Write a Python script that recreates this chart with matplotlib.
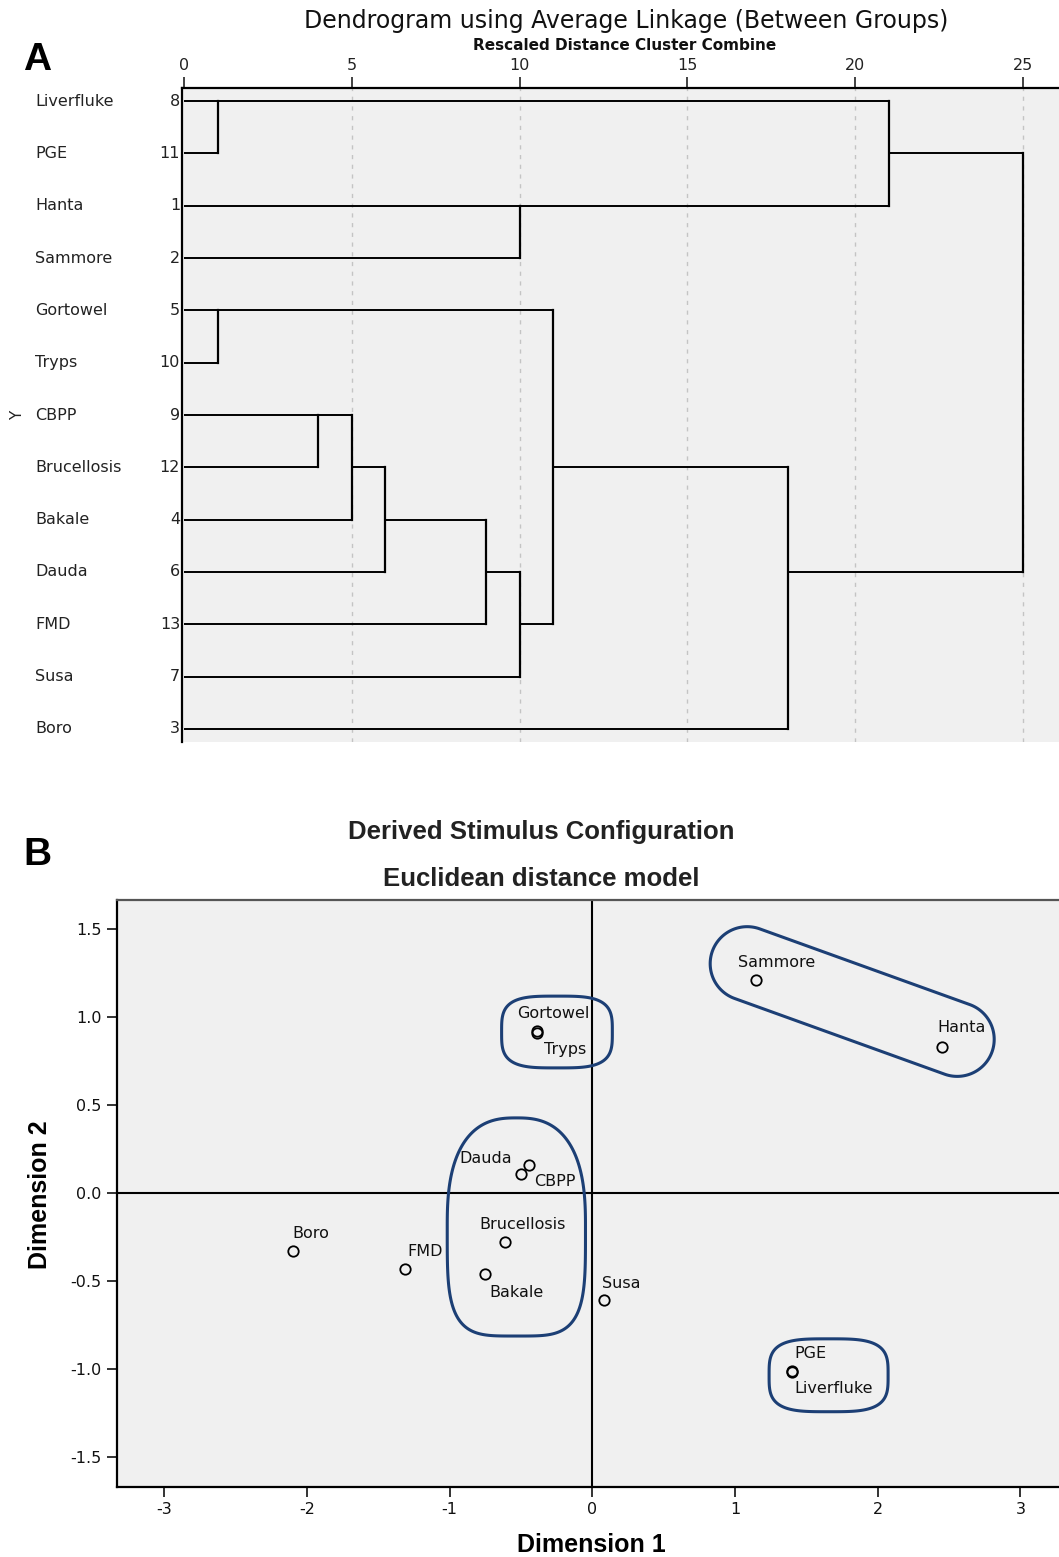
import numpy as np
import matplotlib
matplotlib.use('Agg')
import matplotlib.pyplot as plt
from matplotlib import transforms
from matplotlib.patches import Polygon

plt.rcParams['axes.unicode_minus'] = False

# ---------------- Panel A: dendrogram data ----------------
leaves = ['Liverfluke', 'PGE', 'Hanta', 'Sammore', 'Gortowel', 'Tryps', 'CBPP',
          'Brucellosis', 'Bakale', 'Dauda', 'FMD', 'Susa', 'Boro']
case_ids = [8, 11, 1, 2, 5, 10, 9, 12, 4, 6, 13, 7, 3]
# merge k creates cluster 'm{k+1}'
merge_a = ['Liverfluke', 'Gortowel', 'CBPP', 'm3', 'm4', 'm5', 'Hanta', 'm6', 'm2', 'm9', 'm1', 'm11']
merge_b = ['PGE', 'Tryps', 'Brucellosis', 'Bakale', 'Dauda', 'FMD', 'Sammore', 'Susa', 'm8', 'Boro', 'm7', 'm10']
merge_dist = [1, 1, 4, 5, 6, 9, 10, 10, 11, 18, 21, 25]
dist_ticks = [0, 5, 10, 15, 20, 25]

# ---------------- Panel B: MDS configuration ----------------
stim_names = ['Sammore', 'Hanta', 'Gortowel', 'Tryps', 'Dauda', 'CBPP', 'Brucellosis',
              'Bakale', 'FMD', 'Boro', 'Susa', 'PGE', 'Liverfluke']
dim1 = [1.15, 2.45, -0.39, -0.385, -0.44, -0.50, -0.61, -0.75, -1.31, -2.10, 0.08, 1.40, 1.40]
dim2 = [1.21, 0.83, 0.92, 0.91, 0.16, 0.11, -0.28, -0.46, -0.43, -0.33, -0.61, -1.01, -1.015]
groups = [['Gortowel', 'Tryps'], ['Dauda', 'CBPP', 'Brucellosis', 'Bakale'], ['PGE', 'Liverfluke']]
pair_group = ['Sammore', 'Hanta']

W, H = 1059, 1557
fig = plt.figure(figsize=(W / 100, H / 100), dpi=100)
fig.patch.set_facecolor('white')
BG = '#f0f0f0'

def fbox(l, t, r, b):
    return [l / W, 1 - b / H, (r - l) / W, (b - t) / H]

# ================= Panel A =================
axA = fig.add_axes(fbox(182, 88, 1059, 742))
axA.set_facecolor(BG)
axA.set_xlim(-0.06, 26.07)
axA.set_ylim(12.25, -0.25)

row = {n: i for i, n in enumerate(leaves)}
xpos = {n: 0 for n in leaves}
for k, (a, b, d) in enumerate(zip(merge_a, merge_b, merge_dist)):
    for c in (a, b):
        axA.plot([xpos[c], d], [row[c], row[c]], color='black', lw=1.4, solid_capstyle='butt')
    axA.plot([d, d], [row[a], row[b]], color='black', lw=1.6, solid_capstyle='projecting')
    name = 'm%d' % (k + 1)
    row[name] = np.floor((row[a] + row[b]) / 2)
    xpos[name] = d

for t in dist_ticks[1:]:
    axA.axvline(t, color='#c4c4c4', lw=1.0, ls=(0, (3, 4)), zorder=0)

axA.xaxis.tick_top()
axA.set_xticks(dist_ticks)
axA.tick_params(axis='x', direction='out', length=8, width=1.2, pad=3,
                labelsize=11.5, colors='#222222')
axA.set_yticks([])
for s in ['right', 'bottom']:
    axA.spines[s].set_visible(False)
axA.spines['top'].set_linewidth(1.6)
axA.spines['left'].set_linewidth(1.6)

trA = transforms.blended_transform_factory(fig.transFigure, axA.transData)
for i, (n, c) in enumerate(zip(leaves, case_ids)):
    axA.text(35 / W, i, n, transform=trA, ha='left', va='center', fontsize=11.5,
             color='#222222', clip_on=False)
    axA.text(180 / W, i, str(c), transform=trA, ha='right', va='center', fontsize=11.5,
             color='#222222', clip_on=False)
axA.text(18 / W, 6, 'Y', transform=trA, rotation=90, ha='center', va='center',
         fontsize=11, color='#222222')

fig.text(626 / W, 1 - 21 / H, 'Dendrogram using Average Linkage (Between Groups)',
         ha='center', va='center', fontsize=17, color='#111111')
fig.text(625 / W, 1 - 46 / H, 'Rescaled Distance Cluster Combine',
         ha='center', va='center', fontsize=11, fontweight='bold', color='#111111')
fig.text(37 / W, 1 - 60 / H, 'A', ha='center', va='center', fontsize=28,
         fontweight='bold', family='Liberation Sans')

# ================= Panel B =================
lB, tB, rB, bB = 117, 900, 1059, 1487
axB = fig.add_axes(fbox(lB, tB, rB, bB))
axB.set_facecolor(BG)
xlo, xhi = -3.33, 3.27
ylo, yhi = -1.67, 1.665
axB.set_xlim(xlo, xhi)
axB.set_ylim(ylo, yhi)
sx = (rB - lB) / (xhi - xlo)
sy = (bB - tB) / (yhi - ylo)

axB.axhline(0, color='black', lw=1.5, zorder=1)
axB.axvline(0, color='black', lw=1.5, zorder=1)
axB.plot(dim1, dim2, ls='none', marker='o', ms=7.5, mfc='none', mec='black', mew=1.3, zorder=3)

lab_off = {'Sammore': (-18, 18, 'left'), 'Hanta': (-5, 19, 'left'),
           'Gortowel': (-19, 18, 'left'), 'Tryps': (7, -17, 'left'),
           'Dauda': (-17, 6, 'right'), 'CBPP': (13, -8, 'left'),
           'Brucellosis': (-26, 18, 'left'), 'Bakale': (4, -18, 'left'),
           'FMD': (2, 17, 'left'), 'Boro': (0, 18, 'left'),
           'Susa': (-2, 17, 'left'), 'PGE': (2, 17, 'left'),
           'Liverfluke': (2, -17, 'left')}
for n, x, y in zip(stim_names, dim1, dim2):
    dx, dy, ha = lab_off[n]
    axB.annotate(n, (x, y), xytext=(dx, dy), textcoords='offset pixels',
                 ha=ha, va='center', fontsize=11.5, color='#111111', zorder=4)

LOOP = '#1c3f75'

def draw_loop(cx, cy, px, py):
    pts = np.column_stack([cx + px / sx, cy + py / sy])
    axB.add_patch(Polygon(pts, closed=True, fill=False, edgecolor=LOOP, lw=2.2,
                          joinstyle='round', zorder=5))

def box_loop(cx, cy, hw, hh, n_top=3.5, n_bot=3.5):
    t = np.linspace(0, 2 * np.pi, 400, endpoint=False)
    n = np.where(np.sin(t) >= 0, n_top, n_bot)
    u = hw * np.sign(np.cos(t)) * np.abs(np.cos(t)) ** (2 / n)
    v = hh * np.sign(np.sin(t)) * np.abs(np.sin(t)) ** (2 / n)
    draw_loop(cx, cy, u, v)

def capsule_loop(cx, cy, half_len, r, angle):
    L = half_len - r
    t1 = np.linspace(-np.pi / 2, np.pi / 2, 100)
    t2 = np.linspace(np.pi / 2, 3 * np.pi / 2, 100)
    u = np.concatenate([L + r * np.cos(t1), -L + r * np.cos(t2)])
    v = np.concatenate([r * np.sin(t1), r * np.sin(t2)])
    a = np.deg2rad(angle)
    draw_loop(cx, cy, u * np.cos(a) - v * np.sin(a), u * np.sin(a) + v * np.cos(a))

pads = [(35, 75, 35, 35), (38, 56, 47, 62), (23, 96, 32, 40)]  # left, right, top, bottom (px)
shapes = [(3.5, 3.5), (2.6, 4.0), (3.5, 3.5)]
idx = {n: i for i, n in enumerate(stim_names)}
for g, (pl, pr, pt, pb), (nt, nb) in zip(groups, pads, shapes):
    gx = [dim1[idx[n]] for n in g]
    gy = [dim2[idx[n]] for n in g]
    x0 = min(gx) - pl / sx
    x1 = max(gx) + pr / sx
    y0 = min(gy) - pb / sy
    y1 = max(gy) + pt / sy
    box_loop((x0 + x1) / 2, (y0 + y1) / 2, (x1 - x0) / 2 * sx, (y1 - y0) / 2 * sy, nt, nb)

p1, p2 = idx[pair_group[0]], idx[pair_group[1]]
ddx = (dim1[p2] - dim1[p1]) * sx
ddy = (dim2[p2] - dim2[p1]) * sy
ang = np.degrees(np.arctan2(ddy, ddx))
half_len = np.hypot(ddx, ddy) / 2 + 50
mx = (dim1[p1] + dim1[p2]) / 2 + 3 / sx
my = (dim2[p1] + dim2[p2]) / 2 + 12 / sy
capsule_loop(mx, my, half_len, 37, ang)

axB.set_xticks([-3, -2, -1, 0, 1, 2, 3])
axB.set_yticks([-1.5, -1.0, -0.5, 0.0, 0.5, 1.0, 1.5])
axB.set_yticklabels(['%.1f' % v for v in [-1.5, -1.0, -0.5, 0.0, 0.5, 1.0, 1.5]])
axB.tick_params(direction='out', length=7, width=1.2, labelsize=11.5, colors='#111111', pad=4)
axB.spines['right'].set_visible(False)
axB.spines['top'].set_color('#555555')
for s in ['top', 'left', 'bottom']:
    axB.spines[s].set_linewidth(1.6)

fig.text(591 / W, 1 - 1545 / H, 'Dimension 1', ha='center', va='center', fontsize=18,
         fontweight='bold', family='Liberation Sans')
fig.text(40 / W, 1 - 1195 / H, 'Dimension 2', ha='center', va='center', fontsize=18,
         fontweight='bold', family='Liberation Sans', rotation=90)
fig.text(541 / W, 1 - 832 / H, 'Derived Stimulus Configuration', ha='center', va='center',
         fontsize=18.5, fontweight='bold', family='Liberation Sans', color='#222222')
fig.text(541 / W, 1 - 879 / H, 'Euclidean distance model', ha='center', va='center',
         fontsize=18.5, fontweight='bold', family='Liberation Sans', color='#222222')
fig.text(37 / W, 1 - 855 / H, 'B', ha='center', va='center', fontsize=28,
         fontweight='bold', family='Liberation Sans')

fig.savefig('out.png', dpi=100)
